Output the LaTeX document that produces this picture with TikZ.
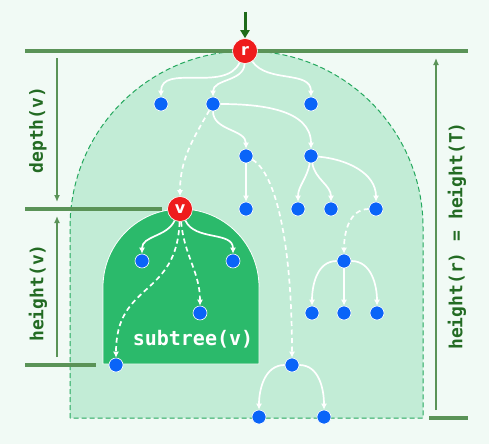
\documentclass[tikz,border=0pt]{standalone}
\usepackage{fontspec}
\newfontfamily\monofont{DejaVu Sans Mono}
\newfontfamily\labfont{DejaVu Sans}
\usetikzlibrary{arrows.meta,positioning}
\definecolor{bgcol}{HTML}{F1FAF5}
\definecolor{lightreg}{HTML}{C2ECD6}
\definecolor{regborder}{HTML}{25A85E}
\definecolor{darkreg}{HTML}{2BBA6B}
\definecolor{nodeblue}{HTML}{0A64F8}
\definecolor{nodered}{HTML}{EE1C1C}
\definecolor{measurecol}{HTML}{5A9357}
\definecolor{labelgreen}{HTML}{236B23}
\definecolor{topgreen}{HTML}{1F6B1A}

\begin{document}
\begin{tikzpicture}[x=1pt,y=1pt,
    leaf/.style={circle,fill=nodeblue,draw=white,line width=0.6pt,minimum size=14pt,inner sep=0pt},
    rootnode/.style={circle,fill=nodered,draw=white,line width=0.6pt,minimum size=25pt,inner sep=0pt,text=white,font=\labfont\bfseries\fontsize{16}{16}\selectfont},
    link/.style={white,line width=1.7pt,-{Latex[length=6pt,width=6pt]}},
    dlink/.style={link,dash pattern=on 5pt off 3.5pt},
    measure/.style={measurecol,line width=3.2pt},
    dimarrow/.style={measurecol,line width=1.3pt,-{Latex[length=7pt,width=6pt]}},
    dimlabel/.style={labelgreen,rotate=90,font=\monofont\bfseries\fontsize{18}{18}\selectfont}]
        % canvas
        \fill[bgcol] (0,0) rectangle (489,-444);
        \useasboundingbox (0,0) rectangle (489,-444);
        % the whole tree T and the subtree of v
        \draw[fill=lightreg,draw=regborder,dash pattern=on 5pt off 3pt,line width=1pt] (70,-418) -- (70,-227.5) arc[start angle=180,end angle=0,radius=176.5] -- (423,-418) -- cycle;
        \draw[fill=darkreg,draw=white,line width=0.8pt] (103,-364) -- (103,-287) arc[start angle=180,end angle=0,radius=78] -- (259,-364) -- cycle;
        % level marks
        \coordinate (topL) at (25,-51);
        \coordinate (topR) at (468,-51);
        \coordinate (vL) at (25,-209);
        \coordinate (vR) at (162,-209);
        \coordinate (botL) at (25,-365);
        \coordinate (botR) at (96,-365);
        \coordinate (endL) at (429,-418);
        \coordinate (endR) at (468,-418);
        \draw[measure] (topL) -- (topR);
        \draw[measure] (vL) -- (vR);
        \draw[measure] (botL) -- (botR);
        \draw[measure] (endL) -- (endR);
        % nodes
        \node[rootnode] (r) at (245,-51) {r};
        \node[rootnode] (v) at (180,-209) {v};
        \foreach \n/\x/\y in {a1/161/104,a2/213/104,a3/311/104,b1/246/156,b2/311/156,c1/246/209,c2/298/209,c3/331/209,c4/376/209,d/344/261,e1/312/313,e2/344/313,e3/377/313,f/292/365,g1/259/417,g2/324/417,s1/142/261,s2/233/261,s3/200/313,s4/116/365}{\node[leaf] (\n) at (\x,-\y) {};}
        % tree edges
        \foreach \a/\b/\o in {r/a1/-115,r/a2/-92,r/a3/-55,a2/b1/-90,a2/b2/0,b1/c1/-90,b2/c2/-100,b2/c3/-80,b2/c4/-5,d/e1/180,d/e2/-90,d/e3/0,f/g1/180,f/g2/0,v/s1/-115,v/s2/-65}{\draw[link] (\a) to[out=\o,in=90] (\b);}
        \foreach \a/\b/\o in {a2/v/-120,c4/d/180,v/s3/-85}{\draw[dlink] (\a) to[out=\o,in=90] (\b);}
        \draw[dlink] (v) to[out=-92,in=90,looseness=1.3] (s4);
        \draw[dlink] (b1) .. controls +(-30:35) and +(90:120) .. (f);
        % entry arrow
        \coordinate (entry) at (245,-12);
        \draw[topgreen,line width=3pt,-{Triangle[length=8pt,width=9pt]}] (entry) -- (r.north);
        % dimensions
        \coordinate (dA) at (57,-58);
        \coordinate (dB) at (57,-202);
        \coordinate (hA) at (57,-357);
        \coordinate (hB) at (57,-216);
        \coordinate (tA) at (436,-410);
        \coordinate (tB) at (436,-58);
        \draw[dimarrow] (dA) -- (dB);
        \draw[dimarrow] (hA) -- (hB);
        \draw[dimarrow] (tA) -- (tB);
        \node[dimlabel] (depthv) at (38,-130) {depth(v)};
        \node[dimlabel] (heightv) at (38,-293) {height(v)};
        \node[dimlabel] (heightT) at (457,-236) {height(r) = height(T)};
        \node[white,font=\monofont\bfseries\fontsize{20}{20}\selectfont] (sub) at (193,-339) {subtree(v)};
\end{tikzpicture}
\end{document}
